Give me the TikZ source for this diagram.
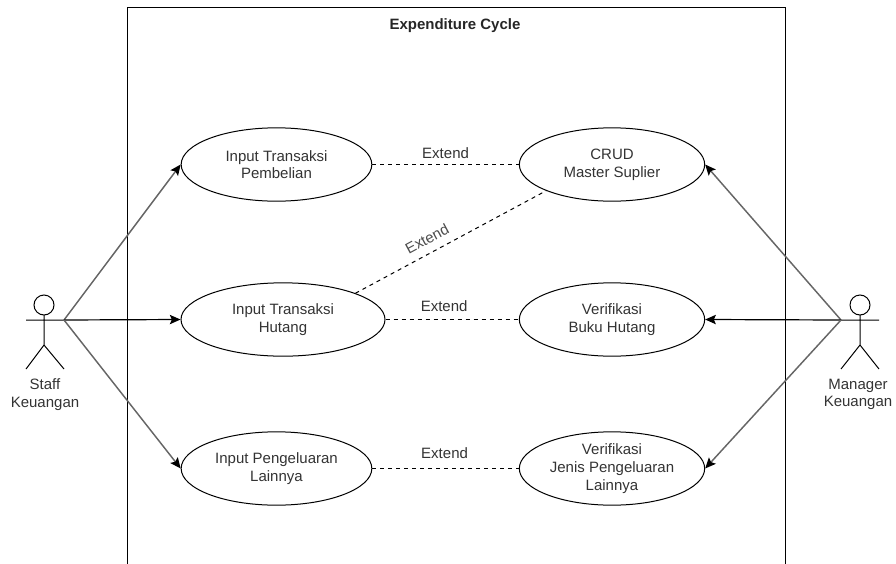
\documentclass[tikz,border=0pt]{standalone}
\usepackage{fontspec}
\setmainfont{Liberation Sans}
\usepackage{tikz}
\usetikzlibrary{arrows.meta}
\usetikzlibrary{shapes.geometric}
\tikzset{
	usecase/.style={draw, ellipse, line width=0.75pt, minimum height=55pt, inner sep=0pt, align=center, font=\fontsize{11.25}{13.25}\selectfont, text=black!80},
	actorlabel/.style={align=center, font=\fontsize{11.25}{13}\selectfont, text=black!80},
	extendlabel/.style={font=\fontsize{11.25}{13}\selectfont, text=black!80, inner sep=4pt},
	stick/.style={line width=0.75pt},
	assoc/.style={-{Stealth[length=8pt,width=7pt,inset=1.5pt,fill=black,color=black]}, line width=1.1pt, black!60},
}
\begin{document}
\begin{tikzpicture}[x=0.75pt, y=-0.75pt]
\useasboundingbox (0,0) rectangle (896,564);
% system boundary
\draw[stick] (127,564) -- (127,7) -- (785,7) -- (785,564);
\node[font=\fontsize{11.25}{13}\selectfont\bfseries, text=black!85] (title) at (455,25.5) {Expenditure Cycle};
% use cases
\node[usecase, minimum width=143pt] (beli) at (276.5,164.5) {Input Transaksi\\Pembelian};
\node[usecase, minimum width=153pt] (hutang) at (283,319.5) {Input Transaksi\\Hutang};
\node[usecase, minimum width=143pt] (lain) at (276.5,468.5) {Input Pengeluaran\\Lainnya};
\node[usecase, minimum width=139pt] (crud) at (612,164.5) {CRUD\\Master Suplier};
\node[usecase, minimum width=139pt] (buku) at (612,319.5) {Verifikasi\\Buku Hutang};
\node[usecase, minimum width=139pt] (jenis) at (612,468.5) {Verifikasi\\Jenis Pengeluaran\\Lainnya};
% actors
\draw[stick] (44,305) circle (7.5pt);
\draw[stick] (44,315) -- (44,345) (26,320) -- (64,320) (26,369) -- (44,345) -- (64,369);
\coordinate (staff) at (64,320);
\node[actorlabel] (staffname) at (45,394.5) {Staff\\Keuangan};
\draw[stick] (860,305) circle (7.5pt);
\draw[stick] (860,315) -- (860,345) (841,320) -- (879,320) (841,369) -- (860,345) -- (879,369);
\coordinate (manager) at (841,320);
\node[actorlabel] (managername) at (858,394.5) {Manager\\Keuangan};
% associations
\path
(staff) edge [assoc] (beli.west)
(staff) edge [assoc, black, line width=0.9pt] (hutang.west)
(staff) edge [assoc] (lain.west)
(manager) edge [assoc] (crud.east)
(manager) edge [assoc, black, line width=0.9pt] (buku.east)
(manager) edge [assoc] (jenis.east)
;
% extends
\path[dashed, line width=0.75pt]
(beli) edge node [extendlabel, above] {Extend} (crud)
(hutang) edge node [extendlabel, above, pos=0.44, yshift=1.5pt] {Extend} (buku)
(lain) edge node [extendlabel, above, xshift=-0.75pt, yshift=3pt] {Extend} (jenis)
(hutang.north east) edge node [extendlabel, above, sloped, pos=0.41, inner sep=6pt, text=black!70] {Extend} (crud.south west)
;
\end{tikzpicture}
\end{document}
